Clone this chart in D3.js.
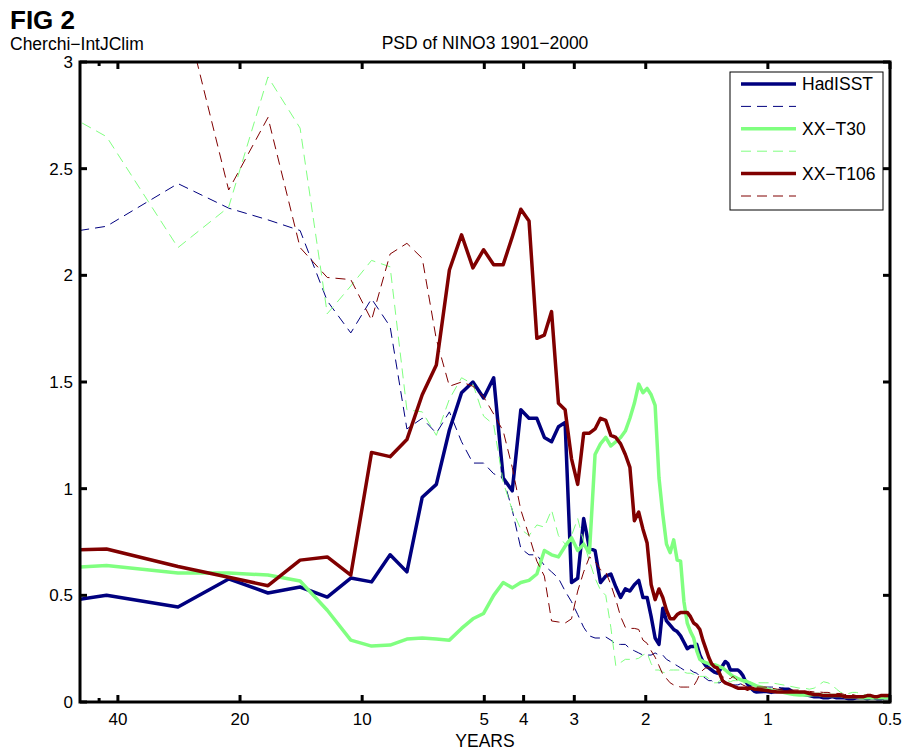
<!DOCTYPE html>
<html lang="en">
<head>
    <meta charset="UTF-8">
    <title>PSD of NINO3 1901-2000</title>
    <style>
        body { margin: 0; background: #fff; }
        svg { display: block; font-family: "Liberation Sans", Arial, sans-serif; }
        .frame { fill: none; stroke: #000; stroke-width: 3px; }
        .tick-mark { stroke: #000; stroke-width: 3px; }
        .tick-label { font-size: 17px; fill: #000; }
        .series { fill: none; stroke-linejoin: round; }
    </style>
    <script src="https://d3js.org/d3.v7.min.js"></script>
</head>
<body>
<div id="chart"></div>
<script>
    // Welch segments of 1024 months -> harmonic k has period (1024/12)/k years
    const SEGMENT_YEARS = 1024 / 12;

    // harmonic indices: every one up to 80, then every third in the tail
    const harmonics = [
        1, 2, 3, 4, 5, 6, 7, 8, 9, 10, 11, 12, 13, 14, 15, 16, 17, 18, 19, 20,
        21, 22, 23, 24, 25, 26, 27, 28, 29, 30, 31, 32, 33, 34, 35, 36, 37, 38, 39, 40,
        41, 42, 43, 44, 45, 46, 47, 48, 49, 50, 51, 52, 53, 54, 55, 56, 57, 58, 59, 60,
        61, 62, 63, 64, 65, 66, 67, 68, 69, 70, 71, 72, 73, 74, 75, 76, 77, 78, 79, 80,
        84, 87, 90, 93, 96, 99, 102, 105, 108, 111, 114, 117, 120, 123, 126, 129, 132, 135, 138, 141,
        144, 147, 150, 153, 156, 159, 162, 165, 168, 171
    ];

    const hadisst = [
        0.415, 0.50, 0.445, 0.577, 0.511, 0.539, 0.492, 0.581, 0.563, 0.69,
        0.61, 0.96, 1.02, 1.275, 1.45, 1.50, 1.425, 1.52, 1.05, 0.99,
        1.37, 1.33, 1.33, 1.24, 1.22, 1.29, 1.31, 0.56, 0.58, 0.86,
        0.72, 0.71, 0.56, 0.59, 0.60, 0.54, 0.49, 0.53, 0.52, 0.55,
        0.57, 0.49, 0.49, 0.40, 0.30, 0.27, 0.44, 0.38, 0.36, 0.34,
        0.33, 0.31, 0.28, 0.25, 0.26, 0.26, 0.27, 0.22, 0.19, 0.17,
        0.16, 0.15, 0.14, 0.135, 0.15, 0.17, 0.19, 0.18, 0.15, 0.15,
        0.15, 0.15, 0.14, 0.125, 0.10, 0.085, 0.07, 0.06, 0.05, 0.047,
        0.05, 0.045, 0.05, 0.06, 0.06, 0.045, 0.04, 0.035, 0.03, 0.025,
        0.025, 0.02, 0.02, 0.025, 0.02, 0.02, 0.02, 0.015, 0.015, 0.02,
        0.02, 0.02, 0.015, 0.02, 0.02, 0.015, 0.015, 0.02, 0.02, 0.02
    ];
    const hadisstDashed = [
        2.14, 2.23, 2.43, 2.315, 2.26, 2.21, 1.88, 1.73, 1.89, 1.76,
        1.28, 1.33, 1.26, 1.36, 1.22, 1.12, 1.12, 1.07, 1.05, 0.90,
        0.72, 0.69, 0.69, 0.64, 0.61, 0.58, 0.52, 0.47, 0.41, 0.35,
        0.31, 0.30, 0.30, 0.305, 0.29, 0.27, 0.27, 0.27, 0.25, 0.24,
        0.23, 0.22, 0.22, 0.22, 0.23, 0.22, 0.22, 0.20, 0.19, 0.18,
        0.17, 0.16, 0.15, 0.15, 0.15, 0.14, 0.135, 0.12, 0.12, 0.11,
        0.10, 0.10, 0.09, 0.09, 0.09, 0.10, 0.095, 0.09, 0.085, 0.08,
        0.08, 0.08, 0.085, 0.08, 0.08, 0.08, 0.075, 0.08, 0.08, 0.075,
        0.07, 0.07, 0.07, 0.065, 0.06, 0.05, 0.045, 0.045, 0.04, 0.04,
        0.035, 0.035, 0.03, 0.03, 0.03, 0.025, 0.025, 0.025, 0.02, 0.02,
        0.02, 0.02, 0.02, 0.02, 0.015, 0.015, 0.015, 0.015, 0.015, 0.015
    ];
    const t30 = [
        0.608, 0.64, 0.605, 0.605, 0.595, 0.567, 0.43, 0.29, 0.262, 0.267,
        0.295, 0.30, 0.295, 0.29, 0.345, 0.39, 0.415, 0.50, 0.56, 0.535,
        0.56, 0.57, 0.60, 0.71, 0.69, 0.68, 0.73, 0.77, 0.71, 0.74,
        0.70, 1.16, 1.21, 1.24, 1.20, 1.22, 1.24, 1.27, 1.33, 1.40,
        1.49, 1.45, 1.47, 1.44, 1.39, 1.05, 0.88, 0.74, 0.70, 0.76,
        0.665, 0.66, 0.47, 0.37, 0.33, 0.30, 0.24, 0.20, 0.19, 0.185,
        0.18, 0.175, 0.175, 0.17, 0.165, 0.16, 0.15, 0.14, 0.13, 0.12,
        0.115, 0.11, 0.105, 0.10, 0.10, 0.095, 0.09, 0.085, 0.08, 0.075,
        0.065, 0.055, 0.05, 0.045, 0.04, 0.035, 0.033, 0.033, 0.033, 0.035,
        0.035, 0.03, 0.03, 0.03, 0.03, 0.03, 0.025, 0.025, 0.025, 0.025,
        0.02, 0.02, 0.02, 0.02, 0.02, 0.02, 0.02, 0.02, 0.02, 0.02
    ];
    const t30Dashed = [
        2.97, 2.65, 2.13, 2.32, 2.93, 2.69, 1.82, 1.95, 2.07, 2.04,
        1.37, 1.36, 1.25, 1.42, 1.52, 1.49, 1.34, 1.30, 1.03, 0.90,
        0.81, 0.78, 0.83, 0.82, 0.90, 0.78, 0.74, 0.78, 0.86, 0.75,
        0.66, 0.58, 0.525, 0.50, 0.35, 0.17, 0.185, 0.20, 0.20, 0.20,
        0.205, 0.22, 0.23, 0.18, 0.15, 0.15, 0.14, 0.135, 0.15, 0.15,
        0.15, 0.15, 0.14, 0.135, 0.135, 0.13, 0.125, 0.12, 0.12, 0.12,
        0.11, 0.10, 0.09, 0.09, 0.10, 0.105, 0.11, 0.10, 0.095, 0.10,
        0.10, 0.10, 0.095, 0.09, 0.09, 0.095, 0.095, 0.09, 0.09, 0.09,
        0.09, 0.09, 0.085, 0.08, 0.075, 0.07, 0.065, 0.065, 0.06, 0.065,
        0.08, 0.095, 0.09, 0.08, 0.06, 0.045, 0.04, 0.04, 0.045, 0.045,
        0.04, 0.035, 0.03, 0.03, 0.03, 0.025, 0.025, 0.025, 0.02, 0.02
    ];
    const t106 = [
        0.70, 0.717, 0.635, 0.585, 0.545, 0.665, 0.68, 0.595, 1.17, 1.15,
        1.23, 1.44, 1.58, 2.025, 2.19, 2.035, 2.12, 2.05, 2.05, 2.18,
        2.31, 2.255, 1.705, 1.72, 1.83, 1.40, 1.37, 1.14, 1.02, 1.26,
        1.26, 1.28, 1.33, 1.32, 1.25, 1.24, 1.21, 1.16, 1.10, 0.85,
        0.89, 0.81, 0.745, 0.55, 0.48, 0.53, 0.49, 0.43, 0.39, 0.39,
        0.41, 0.42, 0.42, 0.42, 0.40, 0.37, 0.36, 0.34, 0.29, 0.25,
        0.21, 0.18, 0.165, 0.16, 0.13, 0.10, 0.09, 0.085, 0.08, 0.075,
        0.07, 0.065, 0.065, 0.065, 0.065, 0.06, 0.065, 0.065, 0.06, 0.06,
        0.055, 0.05, 0.047, 0.047, 0.047, 0.047, 0.047, 0.047, 0.04, 0.035,
        0.035, 0.03, 0.03, 0.03, 0.03, 0.03, 0.025, 0.025, 0.025, 0.025,
        0.025, 0.025, 0.03, 0.03, 0.025, 0.025, 0.03, 0.03, 0.03, 0.033
    ];
    const t106Dashed = [
        3.5, 3.6, 3.36, 2.40, 2.74, 2.13, 1.99, 1.98, 1.79, 2.10,
        2.15, 2.08, 1.70, 1.48, 1.50, 1.48, 1.43, 1.35, 1.27, 1.10,
        0.90, 0.78, 0.66, 0.59, 0.38, 0.375, 0.37, 0.39, 0.52, 0.61,
        0.68, 0.66, 0.62, 0.61, 0.55, 0.48, 0.40, 0.35, 0.345, 0.345,
        0.34, 0.29, 0.275, 0.24, 0.21, 0.17, 0.13, 0.11, 0.09, 0.08,
        0.075, 0.07, 0.07, 0.07, 0.07, 0.075, 0.10, 0.13, 0.15, 0.16,
        0.16, 0.16, 0.15, 0.14, 0.13, 0.12, 0.11, 0.11, 0.11, 0.12,
        0.11, 0.10, 0.09, 0.08, 0.075, 0.07, 0.07, 0.07, 0.07, 0.07,
        0.07, 0.065, 0.06, 0.06, 0.056, 0.056, 0.056, 0.05, 0.05, 0.047,
        0.047, 0.045, 0.045, 0.04, 0.04, 0.04, 0.035, 0.035, 0.035, 0.03,
        0.03, 0.03, 0.03, 0.03, 0.025, 0.025, 0.025, 0.025, 0.025, 0.025
    ];

    const xTicks = [40, 20, 10, 5, 4, 3, 2, 1, 0.5];
    const xMinorTicks = [44.5];
    const yTicks = [0, 0.5, 1, 1.5, 2, 2.5, 3];

    const series = [
        { name: "HadISST", values: hadisst, color: "#00007f", dashed: false },
        { name: "", values: hadisstDashed, color: "#00007f", dashed: true },
        { name: "XX\u2212T30", values: t30, color: "#80ff80", dashed: false },
        { name: "", values: t30Dashed, color: "#80ff80", dashed: true },
        { name: "XX\u2212T106", values: t106, color: "#800000", dashed: false },
        { name: "", values: t106Dashed, color: "#800000", dashed: true }
    ];

    const width = 907, height = 752;
    const plotLeft = 80, plotRight = 890, plotTop = 62, plotBottom = 702;

    const svg = d3.select("#chart").append("svg")
        .attr("width", width)
        .attr("height", height);

    const x = d3.scaleLog().domain([49.6, 0.5]).range([plotLeft, plotRight]);
    const y = d3.scaleLinear().domain([0, 3]).range([plotBottom, plotTop]);

    svg.append("clipPath").attr("id", "plot-clip")
        .append("rect")
        .attr("x", plotLeft).attr("y", plotTop)
        .attr("width", plotRight - plotLeft).attr("height", plotBottom - plotTop);

    // spectra
    const line = d3.line()
        .x(d => x(SEGMENT_YEARS / d[0]))
        .y(d => y(d[1]));

    svg.append("g")
        .attr("clip-path", "url(#plot-clip)")
        .selectAll("path")
        .data(series)
        .enter().append("path")
        .attr("class", "series")
        .attr("stroke", d => d.color)
        .attr("stroke-width", d => d.dashed ? 1 : 3.5)
        .attr("stroke-dasharray", d => d.dashed ? "10,6" : null)
        .attr("d", d => line(harmonics.map((k, i) => [k, d.values[i]])));

    // axes box and ticks (MATLAB style: ticks inside, on all four sides)
    const ticks = svg.append("g");
    xTicks.forEach(t => {
        ticks.append("line").attr("class", "tick-mark")
            .attr("x1", x(t)).attr("x2", x(t)).attr("y1", plotBottom).attr("y2", plotBottom - 7);
        ticks.append("line").attr("class", "tick-mark")
            .attr("x1", x(t)).attr("x2", x(t)).attr("y1", plotTop).attr("y2", plotTop + 7);
        ticks.append("text").attr("class", "tick-label")
            .attr("x", x(t)).attr("y", plotBottom + 23)
            .attr("text-anchor", "middle")
            .text(t);
    });
    xMinorTicks.forEach(t => {
        ticks.append("line").attr("class", "tick-mark")
            .attr("x1", x(t)).attr("x2", x(t)).attr("y1", plotBottom).attr("y2", plotBottom - 4);
        ticks.append("line").attr("class", "tick-mark")
            .attr("x1", x(t)).attr("x2", x(t)).attr("y1", plotTop).attr("y2", plotTop + 4);
    });
    yTicks.forEach(t => {
        ticks.append("line").attr("class", "tick-mark")
            .attr("x1", plotLeft).attr("x2", plotLeft + 7).attr("y1", y(t)).attr("y2", y(t));
        ticks.append("line").attr("class", "tick-mark")
            .attr("x1", plotRight).attr("x2", plotRight - 7).attr("y1", y(t)).attr("y2", y(t));
        ticks.append("text").attr("class", "tick-label")
            .attr("x", plotLeft - 7).attr("y", y(t))
            .attr("dy", "0.36em")
            .attr("text-anchor", "end")
            .text(t);
    });

    svg.append("rect").attr("class", "frame")
        .attr("x", plotLeft).attr("y", plotTop)
        .attr("width", plotRight - plotLeft).attr("height", plotBottom - plotTop);

    // legend
    const legend = svg.append("g").attr("transform", "translate(730,72)");
    legend.append("rect")
        .attr("width", 153).attr("height", 138)
        .attr("fill", "#fff").attr("stroke", "#000").attr("stroke-width", 1);
    series.forEach((s, i) => {
        const ly = 12 + i * 22.4;
        legend.append("line")
            .attr("x1", 11).attr("x2", 66).attr("y1", ly).attr("y2", ly)
            .attr("stroke", s.color)
            .attr("stroke-width", s.dashed ? 1 : 3.5)
            .attr("stroke-dasharray", s.dashed ? "10,6" : null);
        if (s.name) {
            legend.append("text")
                .attr("x", 72).attr("y", ly)
                .attr("dy", "0.36em")
                .style("font-size", "17.5px")
                .text(s.name);
        }
    });

    // titles
    svg.append("text")
        .attr("x", 10).attr("y", 29)
        .style("font-size", "26px").style("font-weight", "bold")
        .text("FIG 2");
    svg.append("text")
        .attr("x", 10).attr("y", 50)
        .style("font-size", "17.5px")
        .text("Cherchi\u2212IntJClim");
    svg.append("text")
        .attr("x", 485).attr("y", 49)
        .attr("text-anchor", "middle")
        .style("font-size", "17.5px")
        .text("PSD of NINO3 1901\u22122000");
    svg.append("text")
        .attr("x", 485).attr("y", 747)
        .attr("text-anchor", "middle")
        .style("font-size", "17.5px")
        .text("YEARS");
</script>
</body>
</html>
